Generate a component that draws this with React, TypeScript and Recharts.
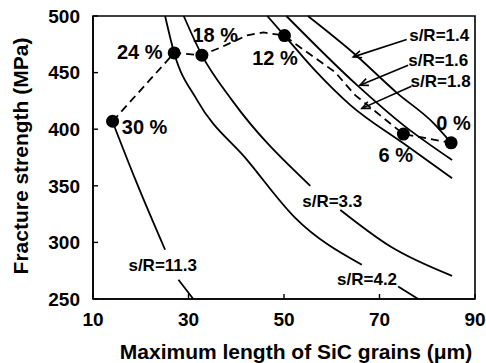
import React from "react"
import {
  ComposedChart, Line, Scatter, XAxis, YAxis, ReferenceArea, ReferenceLine, Label,
} from "recharts"

type Pt = { x: number; y: number | null }

const xTicks = [10, 30, 50, 70, 90]
const yTicks = [250, 300, 350, 400, 450, 500]

// constant s/R curves (null = gap left for the label)
const sr11_3: Pt[] = [
  { x: 14.1, y: 406.6 }, { x: 18.9, y: 355.2 }, { x: 25.1, y: 293.5 },
  { x: 26.5, y: null },
  { x: 27.9, y: 267 }, { x: 31.0, y: 250 },
]
const sr4_2: Pt[] = [
  { x: 25.1, y: 500 }, { x: 27.0, y: 467.4 }, { x: 31.8, y: 425.7 }, { x: 42.3, y: 372.7 },
  { x: 52.4, y: 321.4 }, { x: 66.3, y: 280.2 },
  { x: 70, y: null },
  { x: 73.9, y: 261.1 }, { x: 78.1, y: 250 },
]
const sr3_3: Pt[] = [
  { x: 29.0, y: 500 }, { x: 32.8, y: 465.4 }, { x: 39.1, y: 425.7 }, { x: 55.5, y: 350 },
  { x: 58, y: null },
  { x: 61.8, y: 328.7 }, { x: 72.3, y: 296.4 }, { x: 85.2, y: 270.5 },
]
const sr1_8: Pt[] = [
  { x: 46.5, y: 500 }, { x: 50.1, y: 482.7 }, { x: 56.2, y: 453.3 }, { x: 63.9, y: 421.3 },
  { x: 75.0, y: 387.5 }, { x: 85.2, y: 356.7 },
]
const sr1_6: Pt[] = [
  { x: 50.5, y: 500 }, { x: 65.3, y: 438.9 }, { x: 75.0, y: 403.6 }, { x: 85.2, y: 372.8 },
]
const sr1_4: Pt[] = [
  { x: 55.0, y: 500 }, { x: 64.6, y: 467.1 }, { x: 73.7, y: 431.9 }, { x: 81.3, y: 405.4 },
  { x: 85.0, y: 388 },
]

// strength vs. max grain length for each SiC content
const trend: Pt[] = [
  { x: 14.1, y: 407 }, { x: 27.0, y: 467.4 }, { x: 32.8, y: 465.4 }, { x: 37.0, y: 472.7 },
  { x: 42.3, y: 483 }, { x: 45.7, y: 485.5 }, { x: 50.1, y: 482.7 }, { x: 52.4, y: 475.3 },
  { x: 60.7, y: 450.4 }, { x: 64.9, y: 430.1 }, { x: 75.0, y: 395.7 }, { x: 85.0, y: 388 },
]
const sicPoints = [
  { x: 14.1, y: 407, pct: "30 %" }, { x: 27.0, y: 467.4, pct: "24 %" },
  { x: 32.8, y: 465.4, pct: "18 %" }, { x: 50.1, y: 482.7, pct: "12 %" },
  { x: 75.0, y: 395.7, pct: "6 %" }, { x: 85.0, y: 388, pct: "0 %" },
]
const pctLabels = [
  { x: 20.8, y: 401.8, text: "30 %" }, { x: 19.8, y: 468, text: "24 %" },
  { x: 35.6, y: 483, text: "18 %" }, { x: 48.1, y: 462.7, text: "12 %" },
  { x: 73.4, y: 377.2, text: "6 %" }, { x: 85.5, y: 405.4, text: "0 %" },
]
const srLabels = [
  { x: 82.5, y: 483, text: "s/R=1.4" }, { x: 82.3, y: 461, text: "s/R=1.6" },
  { x: 82.8, y: 442.4, text: "s/R=1.8" }, { x: 60.1, y: 335.8, text: "s/R=3.3" },
  { x: 67.4, y: 267, text: "s/R=4.2" }, { x: 24.6, y: 279.4, text: "s/R=11.3" },
]
const arrows = [
  [{ x: 75.7, y: 479.2 }, { x: 64.5, y: 463.9 }],
  [{ x: 76.0, y: 456.5 }, { x: 65.9, y: 438.9 }],
  [{ x: 76.7, y: 438 }, { x: 66.3, y: 418.4 }],
]

const FONT = "'Liberation Sans', Arial, sans-serif"

function Arrow(p: any) {
  const { x1, y1, x2, y2 } = p
  const a = Math.atan2(y2 - y1, x2 - x1)
  const len = 9
  const s = 0.42
  const ax = x2 - len * Math.cos(a - s), ay = y2 - len * Math.sin(a - s)
  const bx = x2 - len * Math.cos(a + s), by = y2 - len * Math.sin(a + s)
  return (
    <g stroke="#000" strokeWidth={1.6} fill="none">
      <line x1={x1} y1={y1} x2={x2} y2={y2} />
      <polyline points={`${ax},${ay} ${x2},${y2} ${bx},${by}`} />
    </g>
  )
}

const curveProps = {
  dataKey: "y", stroke: "#000", strokeWidth: 1.8, dot: false, activeDot: false,
  type: "monotone" as const, isAnimationActive: false, connectNulls: false,
}

export default function App() {
  return (
    <div style={{ position: "absolute", left: 0, top: 0, background: "#fff" }}>
      <ComposedChart width={486} height={363} margin={{ top: 16, right: 11, bottom: 0, left: 0 }}>
        <XAxis
          type="number" dataKey="x" domain={[10, 90]} ticks={xTicks} interval={0}
          height={64} tickSize={-5} tickMargin={19}
          tick={{ fontSize: 19, fill: "#000", fontFamily: FONT, fontWeight: "bold" }}
          axisLine={{ stroke: "#000", strokeWidth: 1.6 }} tickLine={{ stroke: "#000", strokeWidth: 1.4 }}
        >
          <Label content={() => (
            <text x={296} y={359} textAnchor="middle" fontSize={21} fontWeight="bold" fontFamily={FONT}>
              Maximum length of SiC grains (μm)
            </text>
          )} />
        </XAxis>
        <YAxis
          type="number" dataKey="y" domain={[250, 500]} ticks={yTicks} interval={0}
          width={93} tickSize={-5} tickMargin={18}
          tick={{ fontSize: 19, fill: "#000", fontFamily: FONT, fontWeight: "bold" }}
          axisLine={{ stroke: "#000", strokeWidth: 1.6 }} tickLine={{ stroke: "#000", strokeWidth: 1.4 }}
        >
          <Label content={() => (
            <text x={28} y={156} transform="rotate(-90, 28, 156)" textAnchor="middle"
              fontSize={21} fontWeight="bold" fontFamily={FONT}>
              Fracture strength (MPa)
            </text>
          )} />
        </YAxis>
        <ReferenceArea x1={10} x2={90} y1={250} y2={500} fill="none" fillOpacity={0}
          stroke="#000" strokeWidth={1.6} />

        <Line data={sr11_3} {...curveProps} />
        <Line data={sr4_2} {...curveProps} />
        <Line data={sr3_3} {...curveProps} />
        <Line data={sr1_8} {...curveProps} />
        <Line data={sr1_6} {...curveProps} />
        <Line data={sr1_4} {...curveProps} />
        <Line data={trend} dataKey="y" stroke="#000" strokeWidth={1.8} strokeDasharray="8 5"
          dot={false} activeDot={false} type="linear" isAnimationActive={false} />

        {arrows.map((seg, i) => (
          <ReferenceLine key={i} segment={seg} shape={Arrow} />
        ))}

        <Scatter data={sicPoints} dataKey="y" isAnimationActive={false}
          shape={(p: any) => <circle cx={p.cx} cy={p.cy} r={6.5} fill="#000" />} />
        <Scatter data={pctLabels} dataKey="y" isAnimationActive={false}
          shape={(p: any) => (
            <text x={p.cx} y={p.cy} textAnchor="middle" dominantBaseline="central"
              fontSize={20} fontWeight="bold" fontFamily={FONT}>{p.payload.text}</text>
          )} />
        <Scatter data={srLabels} dataKey="y" isAnimationActive={false}
          shape={(p: any) => (
            <text x={p.cx} y={p.cy} textAnchor="middle" dominantBaseline="central"
              fontSize={17} fontWeight="bold" fontFamily={FONT}>{p.payload.text}</text>
          )} />
      </ComposedChart>
    </div>
  )
}
